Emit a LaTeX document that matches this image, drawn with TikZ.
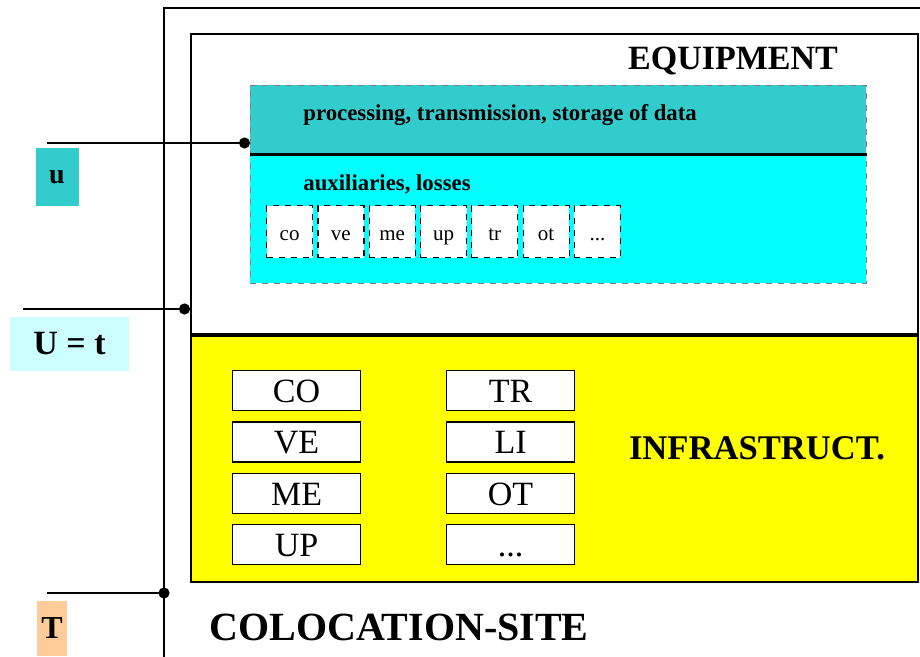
\documentclass[tikz,border=0pt]{standalone}
\usepackage{fontspec}
\setmainfont{Liberation Serif}
\usetikzlibrary{arrows.meta}
\definecolor{procteal}{HTML}{33CCCC}
\definecolor{auxcyan}{HTML}{00FFFF}
\definecolor{infrayellow}{HTML}{FFFF00}
\definecolor{ucyan}{HTML}{CCFFFF}
\definecolor{torange}{HTML}{FFCC99}
\newcommand{\etcdots}{...}

\begin{document}
\begin{tikzpicture}[x=0.5pt,y=-0.5pt,
    area/.style={draw, rectangle, inner sep=0pt, anchor=north west},
    band/.style={area, draw=gray, dashed, thin},
    auxbox/.style={area, fill=white, draw=black, dashed, semithick,
      minimum width=23pt, minimum height=26pt, text height=10pt, text depth=1pt,
      font=\fontsize{10.5}{12}\selectfont},
    infrabox/.style={area, fill=white, draw=black, semithick,
      minimum width=64pt, minimum height=20pt, text height=12.5pt, text depth=0.5pt,
      font=\fontsize{17}{20}\selectfont},
    tag/.style={rectangle, inner sep=0pt, font=\bfseries},
    dotline/.style={line width=1pt, -{Circle[length=5.5pt]}}]
          \useasboundingbox (0,0) rectangle (920,657);

          % Site
          \draw[line width=1pt] (164,665) |- (925,8);
          \node[font=\fontsize{20}{24}\selectfont\bfseries] (site) at (399,627) {COLOCATION-SITE};

          % Equipment
          \node[area, fill=white, line width=1.2pt, minimum width=363.5pt, minimum height=150pt] (equip) at (190,33) {};
          \node[font=\fontsize{17}{20}\selectfont\bfseries] (equiplabel) at (733,61) {EQUIPMENT};
          \node[band, fill=procteal, minimum width=308pt, minimum height=35pt] (proc) at (250,85) {};
          \node[band, fill=auxcyan, minimum width=308pt, minimum height=64pt] (aux) at (250,155) {};
          \draw[line width=1.5pt] (aux.north west) -- (aux.north east);
          \node[anchor=west, inner sep=0pt, font=\fontsize{11.4}{13}\selectfont\bfseries] (proclabel) at (303,115) {processing, transmission, storage of data};
          \node[anchor=west, inner sep=0pt, font=\fontsize{11.4}{13}\selectfont\bfseries] (auxlabel) at (303,184) {auxiliaries, losses};
          \foreach \name [count=\i from 0] in {co,ve,me,up,tr,ot,\etcdots}
            \node[auxbox] (aux\i) at (266+\i*51.3,205) {\name};

          % Infrastructure
          \node[area, fill=infrayellow, line width=1.2pt, minimum width=363.5pt, minimum height=123pt] (infra) at (190,335) {};
          \node[font=\fontsize{17.3}{20}\selectfont\bfseries] (infralabel) at (757,448) {INFRASTRUCT.};
          \foreach \name [count=\i from 0] in {CO,VE,ME,UP}
            \node[infrabox] (left\i) at (232,370+\i*51.3) {\name};
          \foreach \name [count=\i from 0] in {TR,LI,OT,\etcdots}
            \node[infrabox] (right\i) at (446,370+\i*51.3) {\name};

          % Tags
          \node[tag, fill=procteal, minimum width=21.5pt, minimum height=29pt, font=\fontsize{14}{16}\selectfont\bfseries] (u) at (57,177) {u};
          \node[tag, fill=ucyan, minimum width=59.5pt, minimum height=27pt, font=\fontsize{17}{20}\selectfont\bfseries] (Ut) at (69.5,344) {U = t};
          \node[tag, fill=torange, minimum width=15pt, minimum height=27.5pt, font=\fontsize{16}{18}\selectfont\bfseries] (T) at (52,628) {T};

          % Lines
          \coordinate (ustart) at (47,143);
          \coordinate (Utstart) at (23,309);
          \coordinate (Tstart) at (47,593);
          \draw[dotline] (ustart) -- (ustart -| proc.west);
          \draw[dotline] (Utstart) -- (Utstart -| equip.west);
          \draw[dotline, shorten >=-2.75pt] (Tstart) -- (164,593);
        \end{tikzpicture}
\end{document}
